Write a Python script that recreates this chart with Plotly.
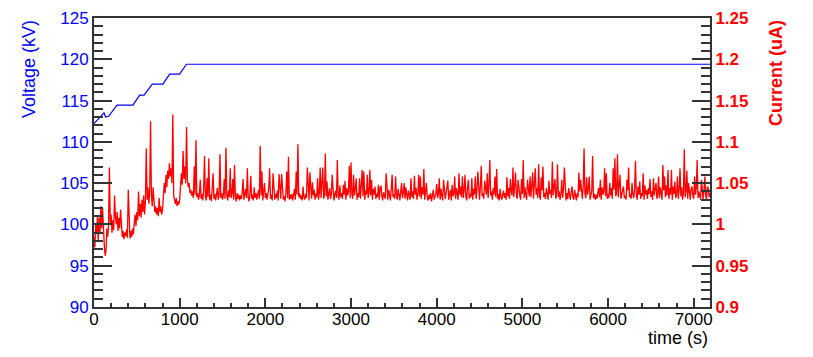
import plotly.graph_objects as go

# ---------------- data ----------------
# High voltage (kV) read at its breakpoints (time in s)
volt_time = [0, 117, 136, 171, 268, 455, 533, 584, 681, 805, 883, 1000, 1078, 7190]
volt_kv = [112.2, 113.5, 113.0, 113.1, 114.45, 114.45, 115.65, 115.65, 117.0, 117.0,
           118.2, 118.2, 119.4, 119.4]

# Current, in nA (i.e. uA * 1000), one sample every 10 s
cur_step_s = 10
cur_0000 = [
    985, 972, 1000, 988, 1010, 980, 1008, 990, 1022, 995,
    1020, 985, 975, 962, 968, 995, 985, 1000, 1069, 1000,
    1012, 990, 1005, 993, 1035, 1010, 1000, 1015, 992, 1008,
    995, 1018, 990, 985, 992, 982, 990, 986, 994, 984,
    1042, 990, 983, 992, 985, 995, 988, 1002, 1012, 998,
    1015, 1005, 1040, 1010, 1025, 1008, 1030, 1015, 1035, 1012,
    1028, 1092, 1030, 1045, 1025, 1040, 1125, 1035, 1022, 1045,
    1028, 1015, 1022, 1012, 1020, 1010, 1032, 1015, 1022, 1012,
    1018, 1035, 1050, 1038, 1060, 1045, 1065, 1055, 1074, 1058,
    1068, 1050, 1133, 1035, 1028, 1025, 1032, 1022, 1028, 1024,
]
cur_1000 = [
    1030, 1050, 1062, 1048, 1089, 1055, 1070, 1050, 1118, 1055,
    1045, 1050, 1038, 1042, 1035, 1040, 1032, 1070, 1036, 1102,
    1033, 1038, 1030, 1036, 1054, 1031, 1037, 1029, 1042, 1083,
    1034, 1029, 1056, 1033, 1080, 1030, 1036, 1028, 1040, 1062,
    1031, 1037, 1029, 1035, 1044, 1030, 1036, 1085, 1032, 1038,
    1030, 1035, 1055, 1031, 1093, 1036, 1029, 1041, 1033, 1068,
    1032, 1037, 1055, 1030, 1072, 1034, 1028, 1038, 1031, 1036,
    1029, 1035, 1031, 1039, 1055, 1030, 1036, 1043, 1032, 1068,
    1033, 1028, 1037, 1059, 1031, 1036, 1029, 1045, 1032, 1038,
    1030, 1036, 1042, 1031, 1095, 1035, 1064, 1029, 1037, 1050,
]
cur_2000 = [
    1032, 1038, 1030, 1035, 1044, 1068, 1031, 1036, 1029, 1062,
    1034, 1030, 1037, 1032, 1041, 1029, 1061, 1035, 1031, 1061,
    1036, 1030, 1034, 1028, 1039, 1064, 1032, 1082, 1030, 1036,
    1031, 1037, 1029, 1035, 1043, 1030, 1064, 1036, 1097, 1033,
    1038, 1031, 1035, 1029, 1046, 1033, 1030, 1037, 1032, 1069,
    1034, 1029, 1063, 1036, 1031, 1051, 1035, 1042, 1030, 1037,
    1033, 1056, 1030, 1038, 1069, 1032, 1045, 1069, 1031, 1036,
    1086, 1034, 1052, 1030, 1037, 1044, 1031, 1036, 1060, 1033,
    1029, 1036, 1041, 1032, 1078, 1035, 1030, 1047, 1033, 1038,
    1031, 1048, 1036, 1053, 1030, 1044, 1035, 1040, 1071, 1032,
]
cur_3000 = [
    1075, 1037, 1031, 1060, 1035, 1042, 1056, 1030, 1038, 1033,
    1056, 1031, 1045, 1066, 1034, 1064, 1030, 1041, 1036, 1060,
    1032, 1038, 1066, 1035, 1054, 1030, 1043, 1036, 1046, 1031,
    1037, 1033, 1048, 1030, 1044, 1047, 1034, 1029, 1039, 1035,
    1031, 1062, 1036, 1030, 1042, 1035, 1029, 1044, 1060, 1033,
    1037, 1031, 1058, 1035, 1030, 1043, 1036, 1029, 1040, 1050,
    1032, 1038, 1050, 1031, 1045, 1035, 1029, 1041, 1034, 1030,
    1056, 1033, 1040, 1031, 1059, 1036, 1044, 1030, 1037, 1060,
    1034, 1058, 1031, 1045, 1036, 1067, 1030, 1041, 1050, 1033,
    1029, 1036, 1031, 1038, 1028, 1035, 1042, 1030, 1034, 1037,
]
cur_4000 = [
    1049, 1032, 1037, 1056, 1030, 1043, 1035, 1029, 1054, 1036,
    1031, 1038, 1045, 1053, 1030, 1036, 1042, 1029, 1048, 1034,
    1037, 1058, 1031, 1044, 1035, 1030, 1062, 1036, 1046, 1033,
    1058, 1032, 1041, 1060, 1034, 1029, 1045, 1054, 1031, 1037,
    1033, 1056, 1030, 1043, 1036, 1058, 1031, 1040, 1064, 1035,
    1030, 1046, 1071, 1034, 1038, 1031, 1053, 1044, 1036, 1062,
    1032, 1047, 1078, 1035, 1040, 1030, 1044, 1036, 1058, 1033,
    1067, 1031, 1037, 1029, 1043, 1034, 1030, 1036, 1041, 1032,
    1038, 1030, 1057, 1034, 1044, 1031, 1055, 1040, 1035, 1069,
    1033, 1046, 1063, 1036, 1031, 1054, 1042, 1035, 1030, 1055,
]
cur_5000 = [
    1037, 1078, 1032, 1045, 1036, 1030, 1054, 1041, 1034, 1058,
    1033, 1047, 1063, 1031, 1050, 1068, 1036, 1044, 1032, 1073,
    1035, 1030, 1057, 1041, 1070, 1033, 1038, 1031, 1044, 1036,
    1030, 1053, 1037, 1042, 1032, 1076, 1035, 1046, 1055, 1031,
    1036, 1073, 1033, 1040, 1030, 1037, 1054, 1032, 1043, 1069,
    1034, 1029, 1038, 1031, 1044, 1036, 1030, 1039, 1046, 1033,
    1030, 1042, 1036, 1029, 1038, 1033, 1063, 1040, 1054, 1035,
    1031, 1046, 1092, 1037, 1032, 1057, 1036, 1043, 1058, 1030,
    1035, 1041, 1083, 1032, 1037, 1030, 1036, 1031, 1038, 1044,
    1033, 1054, 1030, 1045, 1036, 1040, 1068, 1034, 1062, 1031,
]
cur_6000 = [
    1037, 1032, 1050, 1035, 1044, 1031, 1068, 1042, 1080, 1034,
    1038, 1085, 1033, 1045, 1060, 1031, 1036, 1040, 1046, 1032,
    1035, 1030, 1054, 1041, 1069, 1033, 1037, 1031, 1050, 1036,
    1032, 1043, 1077, 1035, 1030, 1046, 1036, 1052, 1031, 1038,
    1034, 1062, 1030, 1047, 1036, 1042, 1031, 1044, 1037, 1055,
    1033, 1040, 1030, 1056, 1035, 1043, 1050, 1031, 1037, 1058,
    1032, 1045, 1036, 1030, 1072, 1041, 1058, 1033, 1047, 1035,
    1066, 1031, 1044, 1036, 1066, 1030, 1046, 1037, 1052, 1032,
    1036, 1058, 1031, 1042, 1068, 1034, 1045, 1030, 1038, 1091,
    1033, 1040, 1065, 1031, 1050, 1036, 1030, 1043, 1046, 1035,
]
cur_7000 = [
    1031, 1058, 1036, 1044, 1078, 1032, 1040, 1035, 1030, 1054,
    1037, 1031, 1042, 1058, 1035, 1030, 1046, 1044, 1033, 1038,
]

# Axis ticks and labels
time_ticks = [0, 1000, 2000, 3000, 4000, 5000, 6000, 7000]
volt_ticks = [90, 95, 100, 105, 110, 115, 120, 125]
cur_ticks = [0.9, 0.95, 1.0, 1.05, 1.1, 1.15, 1.2, 1.25]
cur_tick_text = ["0.9", "0.95", "1", "1.05", "1.1", "1.15", "1.2", "1.25"]

# ---------------- figure ----------------
cur_na = cur_0000 + cur_1000 + cur_2000 + cur_3000 + cur_4000 + cur_5000 + cur_6000 + cur_7000
cur_time = [i * cur_step_s for i in range(len(cur_na))]
cur_ua = [v / 1000.0 for v in cur_na]

FONT = "Liberation Sans, Arial, Helvetica, sans-serif"
BLUE = "#0000ff"
RED = "#ff0000"
AX = "#333333"

fig = go.Figure()
fig.add_trace(go.Scatter(x=cur_time, y=cur_ua, mode="lines", yaxis="y2",
                         line=dict(color=RED, width=1.3), showlegend=False, hoverinfo="skip"))
fig.add_trace(go.Scatter(x=volt_time, y=volt_kv, mode="lines", yaxis="y",
                         line=dict(color=BLUE, width=1.2), showlegend=False, hoverinfo="skip"))

fig.update_layout(
    width=813, height=357,
    margin=dict(l=94, r=103, t=18, b=50, autoexpand=False),
    paper_bgcolor="white", plot_bgcolor="white",
    font=dict(family=FONT, size=17, color="black"),
    xaxis=dict(range=[0, 7190], tickvals=time_ticks, ticks="inside", ticklen=9, tickwidth=1.5,
               tickcolor=AX, showline=True, linecolor=AX, linewidth=2, mirror=True,
               showgrid=False, zeroline=False, automargin=False, ticklabelstandoff=-4,
               tickfont=dict(family=FONT, size=17, color="black"),
               minor=dict(dtick=200, tick0=0, ticks="inside", ticklen=4.5, tickwidth=1.5,
                          tickcolor=AX, showgrid=False)),
    yaxis=dict(range=[90, 125], tickvals=volt_ticks, ticks="inside", ticklen=18, tickwidth=1.5,
               tickcolor=AX, showline=True, linecolor=AX, linewidth=2,
               showgrid=False, zeroline=False, automargin=False,
               tickfont=dict(family=FONT, size=17, color=BLUE),
               minor=dict(dtick=1, tick0=90, ticks="inside", ticklen=9, tickwidth=1.5,
                          tickcolor=AX, showgrid=False)),
    yaxis2=dict(range=[0.9, 1.25], tickvals=cur_ticks, ticktext=cur_tick_text,
                overlaying="y", side="right", anchor="x",
                ticks="inside", ticklen=18, tickwidth=1.5, tickcolor=AX,
                showline=True, linecolor=AX, linewidth=2,
                showgrid=False, zeroline=False, automargin=False,
                tickfont=dict(family=FONT, size=17, color=RED, weight="bold"),
                minor=dict(dtick=0.01, tick0=0.9, ticks="inside", ticklen=9, tickwidth=1.5,
                           tickcolor=AX, showgrid=False)),
    annotations=[
        dict(text="Voltage (kV)", xref="paper", yref="paper", x=-0.1055, y=1.0,
             xanchor="center", yanchor="top", textangle=-90, showarrow=False,
             font=dict(family=FONT, size=18, color=BLUE)),
        dict(text="<b>Current (uA)</b>", xref="paper", yref="paper", x=1.107, y=1.0,
             xanchor="center", yanchor="top", textangle=-90, showarrow=False,
             font=dict(family=FONT, size=18, color=RED)),
        dict(text="time (s)", xref="paper", yref="paper", x=1.0, y=-0.107,
             xanchor="right", yanchor="middle", showarrow=False,
             font=dict(family=FONT, size=18, color="black")),
    ],
)

fig.write_html("out.html", config={"displayModeBar": False},
               post_script="document.body.style.margin='0';document.body.style.overflow='hidden';")
